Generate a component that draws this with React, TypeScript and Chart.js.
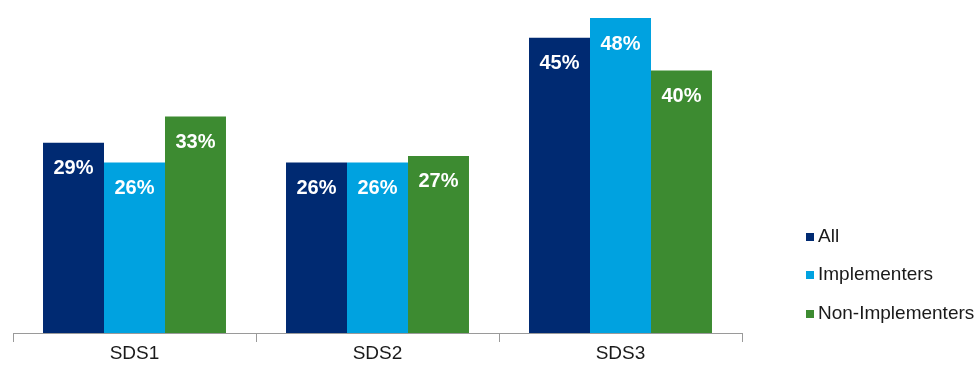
import React, { useEffect, useRef } from "react";
import { Chart, registerables } from "chart.js";

Chart.register(...registerables);

const categories = ["SDS1", "SDS2", "SDS3"];
const seriesNames = ["All", "Implementers", "Non-Implementers"];
const allValues = [29, 26, 45];
const implementersValues = [26, 26, 48];
const nonImplementersValues = [33, 27, 40];
const seriesColors = ["#002A72", "#00A2E0", "#3D8B31"];

const FONT = "'Liberation Sans', Arial, sans-serif";

const valueLabelPlugin = {
  id: "valueLabels",
  afterDatasetsDraw(chart: any) {
    const ctx = chart.ctx;
    ctx.save();
    ctx.fillStyle = "#ffffff";
    ctx.font = `bold 20px ${FONT}`;
    ctx.textAlign = "center";
    ctx.textBaseline = "middle";
    chart.data.datasets.forEach((ds: any, i: number) => {
      const meta = chart.getDatasetMeta(i);
      meta.data.forEach((bar: any, j: number) => {
        ctx.fillText(`${ds.data[j]}%`, bar.x, bar.y + 26);
      });
    });
    ctx.restore();
  },
};

const legendPlugin = {
  id: "customLegend",
  afterDraw(chart: any) {
    const ctx = chart.ctx;
    ctx.save();
    ctx.font = `19px ${FONT}`;
    ctx.textBaseline = "middle";
    ctx.textAlign = "left";
    const ys = [237, 275, 314];
    chart.data.datasets.forEach((ds: any, i: number) => {
      const y = ys[i];
      ctx.fillStyle = ds.backgroundColor;
      ctx.fillRect(806, y - 4, 8, 8);
      ctx.fillStyle = "#1a1a1a";
      ctx.fillText(ds.label, 818, y);
    });
    ctx.restore();
  },
};

export default function App() {
  const ref = useRef<HTMLCanvasElement | null>(null);
  useEffect(() => {
    if (!ref.current) return;
    const chart = new Chart(ref.current, {
      type: "bar",
      data: {
        labels: categories,
        datasets: [
          { label: seriesNames[0], data: allValues, backgroundColor: seriesColors[0] },
          { label: seriesNames[1], data: implementersValues, backgroundColor: seriesColors[1] },
          { label: seriesNames[2], data: nonImplementersValues, backgroundColor: seriesColors[2] },
        ],
      },
      options: {
        responsive: false,
        animation: false,
        devicePixelRatio: 1,
        layout: { padding: { left: 13, right: 235, top: 5, bottom: 0 } },
        plugins: { legend: { display: false }, tooltip: { enabled: false } },
        datasets: { bar: { categoryPercentage: 0.753, barPercentage: 1 } },
        scales: {
          x: {
            offset: true,
            grid: {
              offset: true,
              drawOnChartArea: false,
              drawTicks: true,
              tickLength: 9,
              color: "#9a9a9a",
            },
            border: { display: true, color: "#9a9a9a", width: 1 },
            ticks: {
              padding: 0,
              color: "#1a1a1a",
              font: { family: FONT, size: 19 },
            },
            afterFit(scale: any) {
              scale.height = 36;
            },
          },
          y: {
            display: false,
            min: 0,
            max: 50,
          },
        },
      } as any,
      plugins: [valueLabelPlugin, legendPlugin],
    });
    return () => chart.destroy();
  }, []);
  return (
    <div style={{ position: "fixed", left: 0, top: 0, width: 977, height: 369, background: "#fff" }}>
      <canvas ref={ref} width={977} height={369} style={{ display: "block" }} />
    </div>
  );
}
